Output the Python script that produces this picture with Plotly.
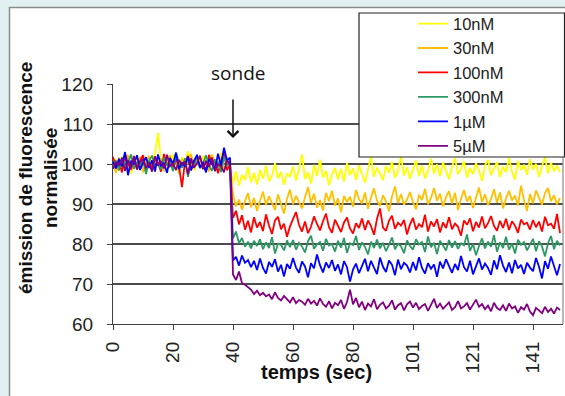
import plotly.graph_objects as go

# ---------------- data ----------------
time_step = 1.0054
n_points = 150
times = [round(i * time_step, 3) for i in range(n_points)]

tick_index = [0, 20, 40, 60, 80, 100, 120, 140]
tick_labels = ["0", "20", "40", "60", "80", "101", "121", "141"]

series_names = ["10nM", "30nM", "100nM", "300nM", "1µM", "5µM"]
series_colors = ["#FFFF00", "#FFC000", "#FF0000", "#2E9965", "#0000FF", "#800080"]

y_10nM = [
    99.5, 101.2, 98.3, 100.8, 102.1, 99.0, 97.6, 100.4, 101.9, 99.2,
    100.6, 98.1, 101.5, 100.2, 102.6, 107.8, 100.9, 98.7, 101.3, 99.6,
    102.4, 100.1, 98.9, 101.7, 99.8, 103.2, 100.5, 98.4, 101.1, 99.3,
    102.0, 100.7, 98.8, 101.4, 99.9, 100.3, 102.8, 98.6, 101.0, 100.2,
    95.2, 98.1, 94.6, 97.3, 96.0, 99.2, 95.4, 97.8, 94.9, 98.5,
    96.3, 99.6, 95.7, 97.1, 100.2, 96.4, 98.0, 94.8, 97.6, 96.9,
    99.4, 95.9, 98.7, 102.4, 96.2, 97.9, 95.1, 99.8, 97.0, 101.1,
    96.6, 98.3, 94.7, 97.5, 99.0, 96.1, 98.8, 95.6, 100.3, 97.2,
    98.9, 96.0, 99.7, 97.4, 95.3, 98.6, 101.8, 96.8, 99.1, 97.7,
    95.9, 99.5, 97.8, 100.6, 96.5, 98.4, 101.9, 97.1, 99.2, 96.3,
    98.7, 100.9, 97.0, 99.6, 96.4, 98.2, 101.3, 97.6, 99.9, 96.9,
    100.4, 98.1, 96.2, 99.3, 101.5, 97.4, 98.8, 100.7, 96.6, 99.0,
    97.5, 100.2, 98.3, 95.8, 99.7, 101.0, 97.2, 98.9, 100.5, 96.7,
    99.4, 97.9, 101.6, 98.0, 96.1, 100.8, 98.5, 99.8, 97.3, 101.2,
    98.6, 100.1, 96.8, 99.5, 101.7, 97.7, 100.3, 98.2, 99.6, 97.9,
]

y_30nM = [
    100.3, 97.8, 101.6, 99.1, 100.7, 102.3, 98.5, 100.0, 99.4, 101.8,
    97.9, 100.6, 102.0, 98.8, 100.9, 99.7, 101.4, 98.2, 100.5, 102.2,
    99.0, 100.8, 97.6, 101.3, 99.6, 100.4, 102.5, 98.9, 100.1, 101.7,
    99.3, 100.9, 98.1, 102.4, 100.0, 99.2, 101.6, 98.7, 100.3, 99.8,
    92.3, 89.4, 91.1, 88.6, 90.8, 92.7, 89.2, 91.5, 88.3, 90.6,
    93.1, 89.7, 91.9, 90.2, 88.5, 92.4, 90.0, 87.6, 91.3, 93.6,
    89.9, 92.1, 90.4, 88.9, 91.7, 94.2, 90.3, 92.6, 89.1, 91.0,
    88.4, 92.8, 90.7, 93.3, 89.6, 91.4, 87.9, 92.0, 90.5, 91.8,
    89.3, 93.5, 91.2, 90.1, 92.9, 88.8, 91.6, 93.9, 90.9, 89.5,
    92.2, 90.6, 88.2, 91.9, 94.4, 90.2, 92.5, 89.8, 91.1, 93.0,
    90.4, 88.7, 92.3, 91.0, 93.8, 89.9, 91.5, 94.0, 90.8, 92.6,
    89.4, 91.7, 93.2, 90.1, 92.8, 88.5, 91.3, 93.5, 90.6, 92.0,
    89.0, 91.8, 94.1, 90.5, 92.4, 89.7, 91.2, 93.7, 90.3, 92.9,
    88.9, 91.4, 93.3, 90.9, 92.1, 89.6, 94.6, 91.0, 88.3, 92.5,
    90.2, 93.4, 91.6, 89.8, 92.7, 94.0, 90.7, 92.2, 89.9, 91.5,
]

y_100nM = [
    101.8, 99.2, 100.5, 97.9, 102.7, 100.1, 98.6, 101.4, 99.5, 100.9,
    102.2, 98.3, 100.6, 99.0, 101.9, 100.3, 98.1, 102.5, 99.7, 100.8,
    98.9, 101.2, 99.4, 94.2, 100.7, 102.0, 98.5, 100.9, 101.6, 99.1,
    100.4, 98.2, 102.3, 99.8, 101.1, 97.7, 100.6, 103.1, 98.4, 100.0,
    86.5, 88.3, 84.9, 87.2, 83.6, 85.8, 82.9, 86.7, 84.1, 85.5,
    83.2, 87.4, 84.6, 82.5, 85.9, 86.8, 83.7, 85.1, 81.8, 84.4,
    86.2, 88.0, 84.8, 83.1, 85.6, 82.7, 84.3, 86.9, 85.0, 83.4,
    85.7, 87.6, 84.2, 82.8, 86.1, 84.7, 83.0, 85.4, 86.6, 83.9,
    82.6, 85.2, 84.0, 86.4, 83.5, 85.9, 84.5, 82.3, 86.3, 88.9,
    84.1, 83.3, 85.8, 87.1, 83.8, 85.3, 84.6, 86.0, 82.4, 84.9,
    86.5, 83.6, 85.0, 84.2, 87.3, 83.1, 85.6, 84.4, 86.2, 82.9,
    85.4, 84.0, 86.7, 83.7, 85.1, 84.3, 82.1, 85.9, 84.8, 86.4,
    83.2, 85.5, 84.1, 86.9, 83.9, 85.2, 87.0, 84.5, 83.3, 85.8,
    84.0, 86.3, 83.5, 85.7, 84.6, 82.8, 86.1, 84.9, 85.3, 83.6,
    86.0, 84.2, 85.6, 83.1, 86.8, 84.7, 85.1, 83.8, 87.5, 82.7,
]

y_300nM = [
    99.0, 100.9, 98.4, 101.7, 99.6, 100.2, 102.4, 98.8, 100.5, 99.3,
    101.1, 97.5, 100.8, 102.1, 99.4, 100.0, 98.7, 101.6, 99.9, 100.6,
    98.2, 102.9, 100.3, 99.1, 101.4, 96.8, 100.7, 99.5, 101.9, 98.9,
    100.2, 102.2, 99.6, 98.3, 101.0, 100.4, 98.0, 101.8, 99.7, 100.5,
    81.4, 83.1, 80.2, 81.5, 79.3, 80.6, 78.9, 80.8, 79.5, 81.2,
    78.7, 80.4, 79.0, 81.7, 77.6, 80.1, 79.8, 78.4, 80.9, 79.2,
    81.0, 78.6, 80.3, 79.4, 77.9, 80.7, 82.1, 78.8, 79.9, 80.5,
    78.3, 81.3, 79.6, 80.0, 78.1, 80.8, 79.1, 81.5, 77.8, 80.2,
    79.7, 82.0, 78.5, 80.4, 79.3, 77.4, 80.6, 79.0, 81.1, 78.9,
    80.3, 78.2, 79.8, 81.6, 78.7, 80.1, 79.4, 77.7, 80.9, 79.5,
    78.6, 81.2, 79.9, 80.5, 78.0, 81.9, 79.2, 80.3, 77.5, 80.8,
    79.6, 78.4, 81.0, 79.1, 80.7, 78.8, 80.2, 79.7, 82.4, 78.3,
    80.0, 77.2, 79.5, 81.4, 78.9, 80.6, 79.3, 82.2, 78.1, 80.4,
    79.0, 81.8, 78.6, 80.1, 77.6, 81.1, 79.8, 80.5, 78.4, 79.9,
    81.3, 78.2, 80.7, 79.4, 76.9, 80.2, 82.0, 78.7, 80.8, 79.6,
]

y_1uM = [
    100.6, 98.9, 101.3, 99.4, 103.0, 97.2, 100.8, 99.9, 102.2, 98.5,
    100.3, 101.7, 99.0, 100.9, 98.1, 102.4, 99.6, 100.2, 97.8, 101.5,
    100.0, 102.8, 98.7, 100.4, 99.3, 101.9, 98.4, 100.7, 102.3, 99.1,
    100.5, 97.9, 101.2, 100.1, 98.6, 102.6, 99.5, 104.1, 100.9, 101.6,
    75.9, 76.8, 74.6, 77.1, 75.3, 76.0, 74.2, 75.8, 73.5, 76.4,
    74.0, 72.6, 75.5, 74.3, 76.2, 73.1, 74.8, 71.9, 75.0, 73.8,
    76.5, 74.1, 72.8, 75.6, 74.4, 71.7, 75.2, 73.9, 77.4, 74.7,
    72.9, 75.4, 74.0, 76.0, 73.3, 74.9, 72.4, 75.7, 74.2, 70.6,
    73.6, 75.1, 72.7, 74.5, 76.3, 73.2, 75.8, 74.1, 72.5, 76.6,
    74.3, 73.0, 75.9, 74.8, 72.2, 76.1, 73.7, 75.3, 74.6, 72.9,
    75.5, 73.4, 76.7, 74.0, 72.6, 75.2, 73.8, 74.9, 71.8, 75.6,
    73.9, 76.2, 74.4, 72.8, 75.0, 73.5, 77.0, 74.2, 73.1, 75.8,
    72.4, 74.7, 76.4, 73.6, 75.1, 74.0, 72.3, 75.9, 73.7, 77.2,
    74.6, 73.0, 75.4, 72.7, 76.0, 73.9, 74.8, 72.5, 75.3, 74.1,
    73.2, 76.5, 74.3, 71.4, 75.7, 73.8, 76.9, 74.5, 72.2, 75.0,
]

y_5uM = [
    98.8, 100.4, 99.7, 101.5, 98.3, 100.9, 99.2, 102.0, 98.6, 100.5,
    101.2, 99.0, 100.3, 98.1, 101.8, 99.6, 100.7, 98.9, 102.3, 99.4,
    100.1, 98.5, 101.0, 99.8, 100.6, 97.4, 101.4, 99.1, 100.2, 102.1,
    98.7, 100.8, 99.3, 101.6, 98.2, 100.0, 99.5, 97.9, 101.1, 99.7,
    72.4, 71.0, 73.1, 70.2, 69.8, 69.1, 68.6, 67.5, 68.3, 67.2,
    67.8, 66.9, 67.4, 66.2, 67.9, 66.5, 65.9, 67.0, 66.1, 65.4,
    66.7, 65.2, 66.0, 65.6, 64.8, 66.3, 65.1, 65.8, 64.6, 66.4,
    65.0, 64.3, 65.7, 63.9, 65.3, 64.7, 66.0, 63.8, 65.5, 68.6,
    64.9, 66.5, 64.2, 65.6, 63.5, 65.1, 64.4, 66.2, 63.7, 64.8,
    65.4, 63.9, 64.6, 65.9, 63.6, 64.7, 65.2, 63.4, 64.9, 65.6,
    64.1, 65.3, 63.7, 64.5, 65.0, 63.3, 64.8, 66.3, 64.0, 65.1,
    63.8, 64.6, 65.4, 63.5, 64.2, 65.7, 63.9, 64.4, 65.2, 63.6,
    64.9, 66.1, 64.3, 65.0, 63.7, 64.6, 63.2, 65.3, 64.0, 63.5,
    64.7, 63.3, 65.1, 63.9, 64.4, 62.8, 64.2, 63.6, 65.0, 63.1,
    62.2, 64.0, 63.4, 62.7, 64.3, 63.0, 63.8, 62.6, 64.1, 63.5,
]

series_values = [y_10nM, y_30nM, y_100nM, y_300nM, y_1uM, y_5uM]

y_ticks = [60, 70, 80, 90, 100, 110, 120]
probe_time_index = 40
probe_label = "sonde"
x_title = "temps (sec)"
y_title = "émission de fluorescence<br>normalisée"

# ---------------- figure ----------------
W, H = 565, 396
ML, MR, MT, MB = 113, 2, 84, 72
PW, PH = W - ML - MR, H - MT - MB


def px_x(px):
    return (px - ML) / PW


def px_y(py):
    return (H - MB - py) / PH


FONT = "Liberation Sans, Arial, sans-serif"

fig = go.Figure()
for name, color, vals in zip(series_names, series_colors, series_values):
    fig.add_trace(go.Scatter(
        x=times, y=vals, mode="lines", name=name,
        line=dict(color=color, width=1.8),
    ))

fig.update_layout(
    width=W, height=H,
    margin=dict(l=ML, r=MR, t=MT, b=MB, pad=0),
    paper_bgcolor="#e2f0f2",
    plot_bgcolor="white",
    font=dict(family=FONT, size=19, color="#222"),
    showlegend=True,
    legend=dict(
        x=px_x(413), y=px_y(6.3), xanchor="left", yanchor="top",
        bgcolor="rgba(0,0,0,0)", borderwidth=0,
        font=dict(family=FONT, size=16.5, color="#222"),
        tracegroupgap=0,
    ),
    xaxis=dict(
        range=[0, n_points * time_step],
        tickmode="array",
        tickvals=[times[i] for i in tick_index],
        ticktext=tick_labels,
        tickangle=-90,
        ticks="outside", ticklen=5, tickcolor="#404040", tickwidth=1.3,
        showline=True, linecolor="#404040", linewidth=1.3,
        showgrid=False, zeroline=False,
        ticklabelstandoff=4,
        tickfont=dict(family=FONT, size=19, color="#222"),
    ),
    yaxis=dict(
        range=[60, 120],
        tickmode="array", tickvals=y_ticks,
        ticks="outside", ticklen=5, tickcolor="#404040", tickwidth=1.3,
        showline=True, linecolor="#404040", linewidth=1.3,
        showgrid=True, gridcolor="#4d4d4d", gridwidth=1.6,
        zeroline=False,
        ticklabelstandoff=10,
        tickfont=dict(family=FONT, size=19, color="#222"),
    ),
)

# outer chart frame (white card on light background)
fig.add_shape(type="rect", xref="paper", yref="paper",
              x0=px_x(9.5), x1=px_x(575), y0=px_y(7.5), y1=px_y(405),
              fillcolor="white", line=dict(color="#8a8a8a", width=1.5),
              layer="below")
# right edge of plot area
fig.add_shape(type="line", xref="paper", yref="paper",
              x0=1, x1=1, y0=0, y1=1,
              line=dict(color="#8a8a8a", width=1.2), layer="above")
# legend box
fig.add_shape(type="rect", xref="paper", yref="paper",
              x0=px_x(359), x1=px_x(564.5), y0=px_y(157), y1=px_y(13),
              fillcolor="white", line=dict(color="#222", width=1.2),
              layer="above")

# axis titles
fig.add_annotation(text="<b>" + x_title + "</b>", xref="paper", yref="paper",
                   x=px_x(316), y=px_y(372), xanchor="center", yanchor="middle",
                   showarrow=False, font=dict(family=FONT, size=20, color="#111"))
fig.add_annotation(text="<b>" + y_title.replace("<br>", "</b><br><b>") + "</b>",
                   xref="paper", yref="paper",
                   x=px_x(38), y=px_y(178), xanchor="center", yanchor="middle",
                   textangle=-90, showarrow=False,
                   font=dict(family=FONT, size=19, color="#111"))

# probe annotation
t_probe = times[probe_time_index]
fig.add_annotation(text=probe_label, xref="x", yref="paper",
                   x=t_probe + 1.6, y=px_y(73), xanchor="center", yanchor="middle",
                   showarrow=False, font=dict(family="Open Sans, sans-serif", size=19, color="#111"))
fig.add_annotation(text="", xref="x", yref="y", axref="x", ayref="y",
                   x=t_probe, y=106.5, ax=t_probe, ay=116.5,
                   showarrow=True, arrowhead=4, arrowsize=1.4, arrowwidth=1.5,
                   arrowcolor="#111")

fig.write_html("out.html", config={"displayModeBar": False},
               post_script="document.body.style.margin='0';")
